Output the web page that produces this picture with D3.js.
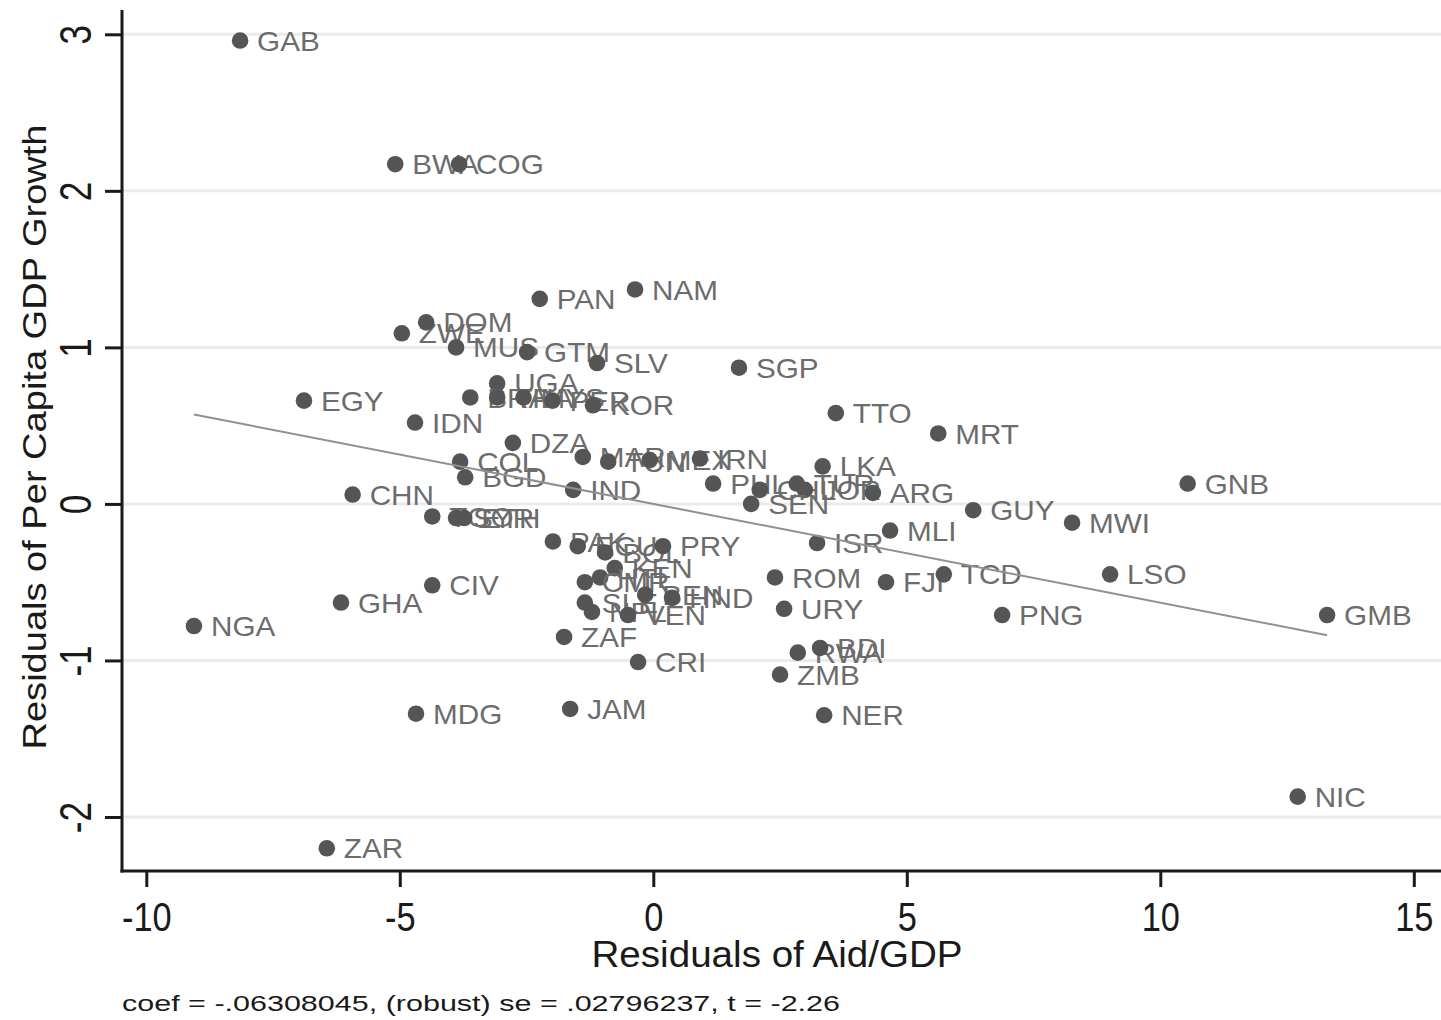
<!DOCTYPE html>
<html>
<head>
<meta charset="utf-8">
<script src="https://cdn.jsdelivr.net/npm/d3@7"></script>
<style>
  html, body { margin: 0; padding: 0; background: #fff; }
  svg { display: block; }
</style>
</head>
<body>
<svg id="chart" width="1441" height="1020"></svg>
<script>
// ---- data ----
const countries = ["GAB","BWA","COG","NAM","PAN","ZWE","DOM","MUS","GTM","SLV","SGP","UGA","BRA","THA","MYS","PER","KOR","EGY","IDN","TTO","MRT","DZA","COL","BGD","MAR","TUN","MEX","IRN","IND","PHL","CHL","TUR","JOR","LKA","ARG","SEN","GNB","CHN","GUY","MWI","MLI","ISR","TGO","SYR","ETH","PAK","ECU","BOL","PRY","KEN","HTI","CMR","SLE","NPL","BEN","HND","VEN","ZAF","CRI","JAM","ROM","URY","FJI","TCD","PNG","LSO","GMB","NIC","CIV","GHA","NGA","MDG","ZAR","RWA","BDI","ZMB","NER"];
const aidResid = [-8.15,-5.09,-3.83,-0.36,-2.24,-4.96,-4.48,-3.89,-2.49,-1.11,1.69,-3.08,-3.61,-3.08,-2.56,-1.99,-1.19,-6.89,-4.70,3.60,5.62,-2.77,-3.81,-3.71,-1.39,-0.89,-0.07,0.92,-1.58,1.18,2.10,2.83,2.99,3.34,4.33,1.93,10.54,-5.93,6.31,8.26,4.67,3.23,-4.36,-3.89,-3.73,-1.98,-1.49,-0.95,0.19,-0.76,-1.05,-1.35,-1.35,-1.21,-0.16,0.37,-0.50,-1.76,-0.30,-1.64,2.40,2.58,4.59,5.73,6.88,9.01,13.29,12.71,-4.36,-6.16,-9.06,-4.68,-6.44,2.85,3.29,2.50,3.37];
const growthResid = [2.96,2.17,2.17,1.37,1.31,1.09,1.16,1.00,0.97,0.90,0.87,0.77,0.68,0.68,0.68,0.66,0.63,0.66,0.52,0.58,0.45,0.39,0.27,0.17,0.30,0.27,0.28,0.29,0.09,0.13,0.09,0.13,0.09,0.24,0.07,0.00,0.13,0.06,-0.04,-0.12,-0.17,-0.25,-0.08,-0.09,-0.09,-0.24,-0.27,-0.31,-0.27,-0.41,-0.47,-0.50,-0.63,-0.69,-0.58,-0.60,-0.71,-0.85,-1.01,-1.31,-0.47,-0.67,-0.50,-0.45,-0.71,-0.45,-0.71,-1.87,-0.52,-0.63,-0.78,-1.34,-2.20,-0.95,-0.92,-1.09,-1.35];
const xTickValues = [-10, -5, 0, 5, 10, 15];
const yTickValues = [-2, -1, 0, 1, 2, 3];
const fitCoef = -0.06308045;
const xTitle = "Residuals of Aid/GDP";
const yTitle = "Residuals of Per Capita GDP Growth";
const noteText = "coef = -.06308045, (robust) se = .02796237, t = -2.26";

// ---- layout ----
const svg = d3.select("#chart");
const plotLeft = 122, plotRight = 1441, plotTop = 10, plotBottom = 871;
const x = d3.scaleLinear().domain([-10, 15]).range([146.3, 1413.8]);
const y = d3.scaleLinear().domain([-2, 3]).range([817, 34.3]);
const FONT = "'Liberation Sans', Arial, sans-serif";

// grid lines
svg.append("g").selectAll("line").data(yTickValues).join("line")
  .attr("x1", plotLeft).attr("x2", plotRight)
  .attr("y1", d => y(d)).attr("y2", d => y(d))
  .attr("stroke", "#ebebeb").attr("stroke-width", 3);

// points + labels
const pts = countries.map((c, i) => ({c, xv: aidResid[i], yv: growthResid[i]}));
const pg = svg.append("g");
pts.forEach(p => {
  pg.append("circle").attr("cx", x(p.xv)).attr("cy", y(p.yv)).attr("r", 8.3)
    .attr("fill", "#555555");
  pg.append("text")
    .attr("transform", `translate(${x(p.xv) + 17},${y(p.yv)}) scale(1.06,1)`)
    .attr("dy", "0.36em")
    .attr("font-family", FONT).attr("font-size", 28)
    .attr("fill", "#6c6c6c").text(p.c);
});

// fit line
const xmin = d3.min(aidResid), xmax = d3.max(aidResid);
svg.append("line")
  .attr("x1", x(xmin)).attr("y1", y(fitCoef * xmin))
  .attr("x2", x(xmax)).attr("y2", y(fitCoef * xmax))
  .attr("stroke", "#909090").attr("stroke-width", 2);

// axes
const xAxis = d3.axisBottom(x).tickValues(xTickValues).tickSize(16).tickSizeOuter(0);
const gx = svg.append("g").attr("transform", `translate(0,${plotBottom})`).call(xAxis);
gx.select(".domain").remove();
gx.selectAll(".tick line").attr("stroke", "#1a1a1a").attr("stroke-width", 3);
gx.selectAll(".tick text").remove();
gx.selectAll(".tick").append("text")
  .attr("transform", "translate(0,60) scale(0.86,1)")
  .attr("text-anchor", "middle")
  .attr("font-family", FONT).attr("font-size", 40).attr("fill", "#1a1a1a")
  .text(d => d);

const yAxis = d3.axisLeft(y).tickValues(yTickValues).tickSize(17).tickSizeOuter(0);
const gy = svg.append("g").attr("transform", `translate(${plotLeft},0)`).call(yAxis);
gy.select(".domain").remove();
gy.selectAll(".tick line").attr("stroke", "#1a1a1a").attr("stroke-width", 3);
gy.selectAll(".tick text").remove();
gy.selectAll(".tick").append("text")
  .attr("transform", "translate(-31,0) rotate(-90) scale(0.8,1)")
  .attr("text-anchor", "middle")
  .attr("font-family", FONT).attr("font-size", 44).attr("fill", "#1a1a1a")
  .text(d => d);

// axis lines (L-frame)
svg.append("line").attr("x1", plotLeft).attr("x2", plotLeft).attr("y1", plotTop).attr("y2", plotBottom + 1.5)
  .attr("stroke", "#1a1a1a").attr("stroke-width", 3);
svg.append("line").attr("x1", plotLeft - 1.5).attr("x2", plotRight).attr("y1", plotBottom).attr("y2", plotBottom)
  .attr("stroke", "#1a1a1a").attr("stroke-width", 3);

// titles
svg.append("text").attr("x", 777).attr("y", 967)
  .attr("text-anchor", "middle").attr("font-family", FONT).attr("font-size", 36)
  .attr("fill", "#1a1a1a").attr("textLength", 371).attr("lengthAdjust", "spacingAndGlyphs")
  .text(xTitle);
svg.append("text").attr("transform", "translate(46,437) rotate(-90)")
  .attr("text-anchor", "middle").attr("font-family", FONT).attr("font-size", 33)
  .attr("fill", "#1a1a1a").attr("textLength", 625).attr("lengthAdjust", "spacingAndGlyphs")
  .text(yTitle);
svg.append("text").attr("x", 122).attr("y", 1011)
  .attr("font-family", FONT).attr("font-size", 22)
  .attr("fill", "#1a1a1a").attr("textLength", 718).attr("lengthAdjust", "spacingAndGlyphs")
  .text(noteText);
</script>
</body>
</html>
